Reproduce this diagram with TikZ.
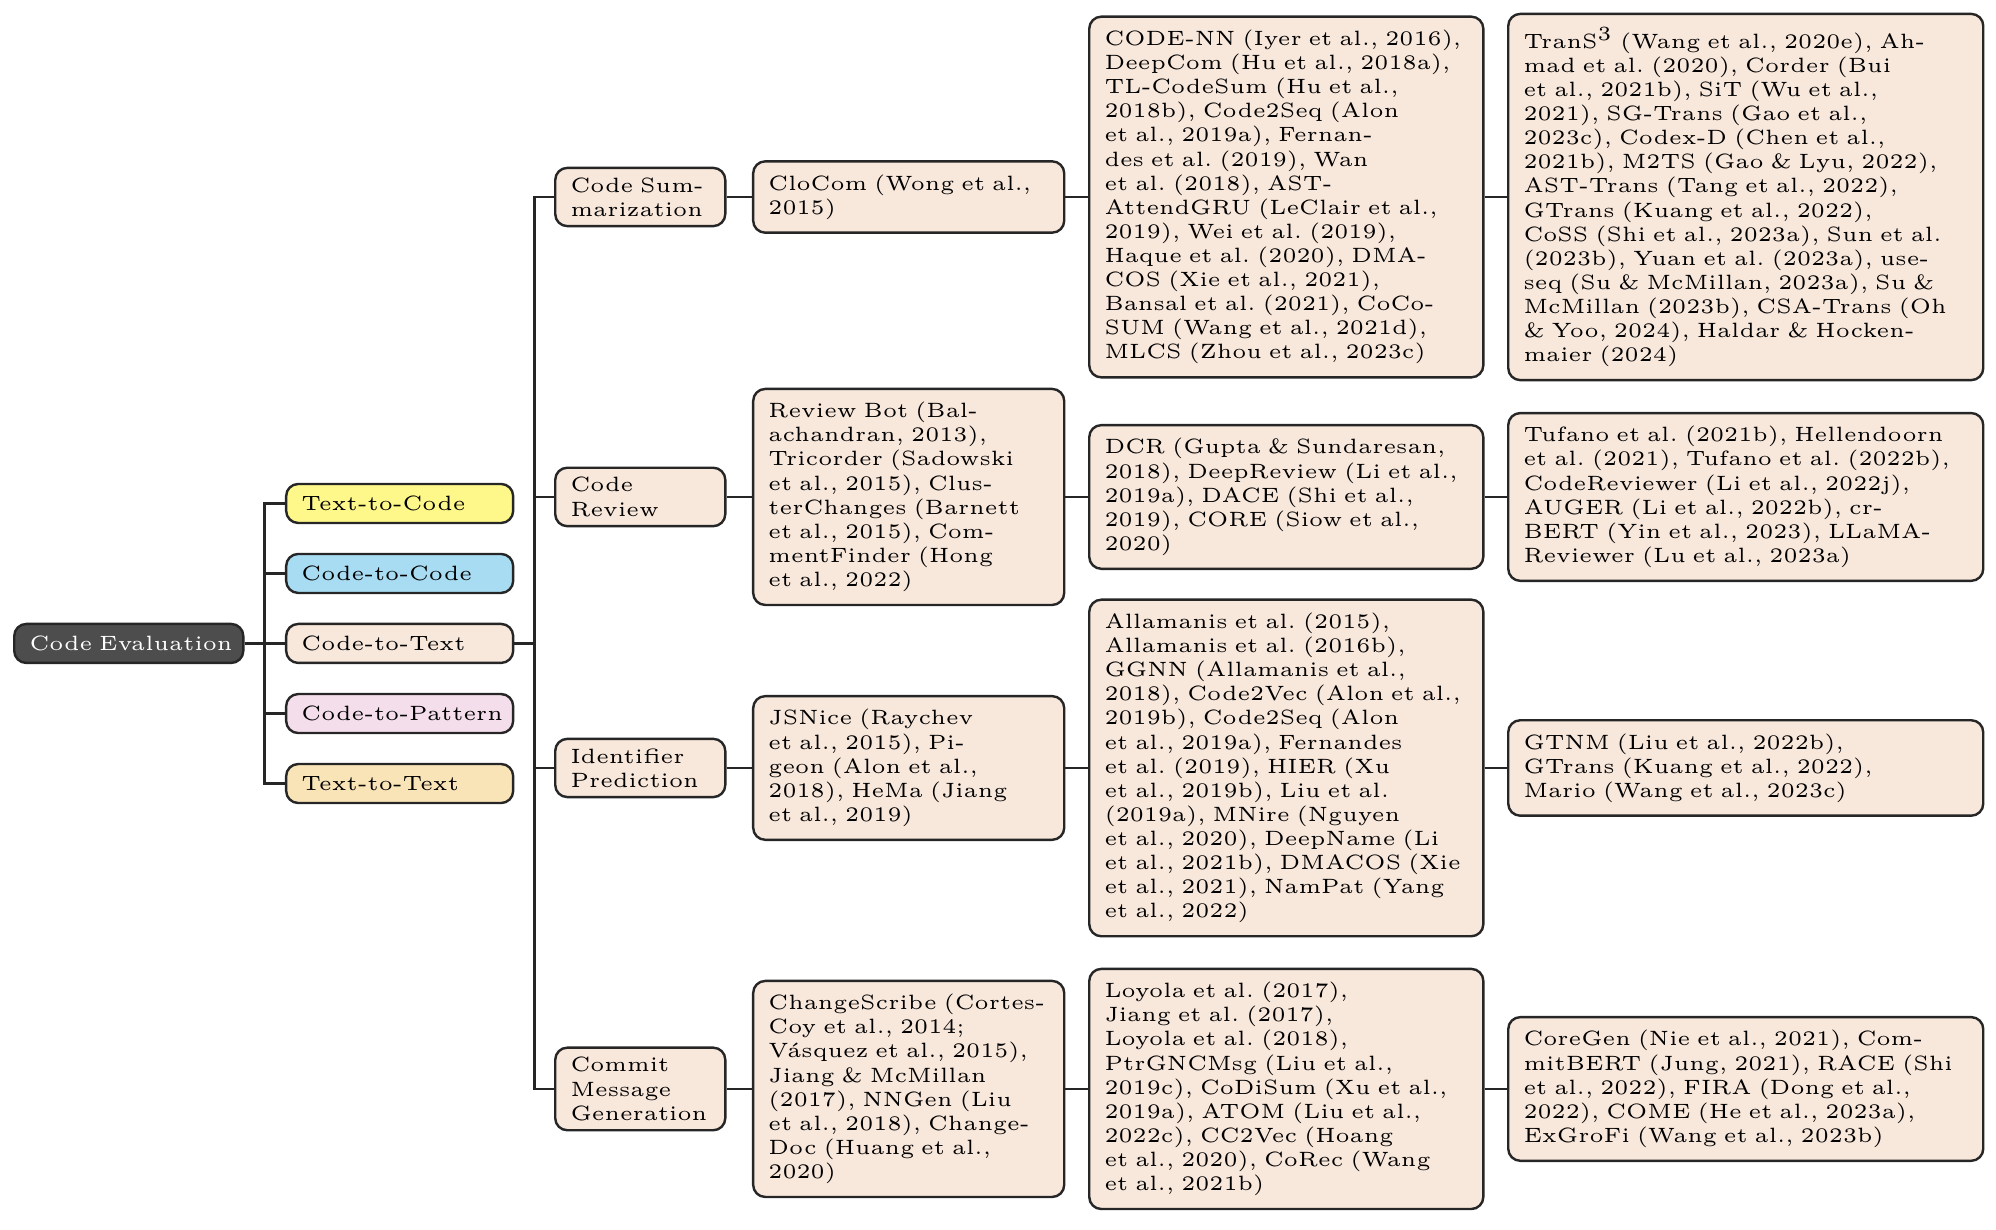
\documentclass[tikz,border=0pt]{standalone}
\usepackage{tikz}
\usetikzlibrary{calc}
\usepackage{xcolor}

\definecolor{rootgray}{RGB}{77,77,77}
\definecolor{tcyellow}{RGB}{254,247,138}
\definecolor{ccblue}{RGB}{167,220,242}
\definecolor{ctbeige}{RGB}{248,231,219}
\definecolor{cppink}{RGB}{245,222,235}
\definecolor{ttwheat}{RGB}{249,228,183}
\frenchspacing

\begin{document}
\begin{tikzpicture}[
    every node/.style={font=\fontsize{5.15pt}{6pt}\selectfont},
    box/.style={draw=black!85, line width=0.6pt, rounded corners=3pt, anchor=west, align=left, inner xsep=3.8pt},
    catbox/.style={box, text width=1.718cm, minimum height=0.341cm, inner ysep=0pt},
    taskbox/.style={box, fill=ctbeige, text width=1.22cm, inner ysep=2.4pt},
    workbox/.style={box, fill=ctbeige, inner ysep=3.3pt},
    edge/.style={draw=black!85, line width=0.6pt}
]
    \useasboundingbox (0,0) rectangle (17.455,-10.756);

    % 根
    \node[catbox, fill=rootgray, text=white, text width=1.736cm] (root) at (0.114,-5.627) {\mbox{Code Evaluation}};

    % 第一層
    \node[catbox, fill=tcyellow] (t2c) at (2.492,-4.403) {\mbox{Text-to-Code}};
    \node[catbox, fill=ccblue] (c2c) at (2.492,-5.015) {\mbox{Code-to-Code}};
    \node[catbox, fill=ctbeige] (c2t) at (2.492,-5.627) {\mbox{Code-to-Text}};
    \node[catbox, fill=cppink] (c2p) at (2.492,-6.240) {\mbox{Code-to-Pattern}};
    \node[catbox, fill=ttwheat] (t2t) at (2.492,-6.852) {\mbox{Text-to-Text}};

    % 第二層
    \node[taskbox] (cs) at (4.845,-1.723) {Code Sum-\\marization};
    \node[taskbox] (cr) at (4.845,-4.346) {Code\\Review};
    \node[taskbox] (ip) at (4.845,-6.716) {Identifier\\Prediction};
    \node[taskbox] (cm) at (4.845,-9.523) {Commit\\Message\\Generation};

    % 第三層
    \node[workbox, text width=2.453cm] (cs1) at (6.576,-1.723) {CloCom (Wong et al.,\\2015)};
    \node[workbox, text width=2.453cm] (cr1) at (6.576,-4.346) {Review Bot (Bal-\\achandran, 2013),\\Tricorder (Sadowski\\et al., 2015), Clus-\\terChanges (Barnett\\et al., 2015), Com-\\mentFinder (Hong\\et al., 2022)};
    \node[workbox, text width=2.453cm] (ip1) at (6.576,-6.716) {JSNice (Raychev\\et al., 2015), Pi-\\geon (Alon et al.,\\2018), HeMa (Jiang\\et al., 2019)};
    \node[workbox, text width=2.453cm] (cm1) at (6.576,-9.523) {ChangeScribe (Cortes-\\Coy et al., 2014;\\Vásquez et al., 2015),\\Jiang \& McMillan\\(2017), NNGen (Liu\\et al., 2018), Change-\\Doc (Huang et al.,\\2020)};

    % 第四層
    \node[workbox, text width=3.179cm] (cs2) at (9.515,-1.723) {CODE-NN (Iyer et al., 2016),\\DeepCom (Hu et al., 2018a),\\TL-CodeSum (Hu et al.,\\2018b), Code2Seq (Alon\\et al., 2019a), Fernan-\\des et al. (2019), Wan\\et al. (2018), AST-\\AttendGRU (LeClair et al.,\\2019), Wei et al. (2019),\\Haque et al. (2020), DMA-\\COS (Xie et al., 2021),\\Bansal et al. (2021), CoCo-\\SUM (Wang et al., 2021d),\\MLCS (Zhou et al., 2023c)};
    \node[workbox, text width=3.179cm] (cr2) at (9.515,-4.346) {DCR (Gupta \& Sundaresan,\\2018), DeepReview (Li et al.,\\2019a), DACE (Shi et al.,\\2019), CORE (Siow et al.,\\2020)};
    \node[workbox, text width=3.179cm] (ip2) at (9.515,-6.716) {Allamanis et al. (2015),\\Allamanis et al. (2016b),\\GGNN (Allamanis et al.,\\2018), Code2Vec (Alon et al.,\\2019b), Code2Seq (Alon\\et al., 2019a), Fernandes\\et al. (2019), HIER (Xu\\et al., 2019b), Liu et al.\\(2019a), MNire (Nguyen\\et al., 2020), DeepName (Li\\et al., 2021b), DMACOS (Xie\\et al., 2021), NamPat (Yang\\et al., 2022)};
    \node[workbox, text width=3.179cm] (cm2) at (9.515,-9.523) {Loyola et al. (2017),\\Jiang et al. (2017),\\Loyola et al. (2018),\\PtrGNCMsg (Liu et al.,\\2019c), CoDiSum (Xu et al.,\\2019a), ATOM (Liu et al.,\\2022c), CC2Vec (Hoang\\et al., 2020), CoRec (Wang\\et al., 2021b)};

    % 第五層
    \node[workbox, text width=3.887cm] (cs3) at (13.179,-1.723) {TranS$^3$ (Wang et al., 2020e), Ah-\\mad et al. (2020), Corder (Bui\\et al., 2021b), SiT (Wu et al.,\\2021), SG-Trans (Gao et al.,\\2023c), Codex-D (Chen et al.,\\2021b), M2TS (Gao \& Lyu, 2022),\\AST-Trans (Tang et al., 2022),\\GTrans (Kuang et al., 2022),\\CoSS (Shi et al., 2023a), Sun et al.\\(2023b), Yuan et al. (2023a), use-\\seq (Su \& McMillan, 2023a), Su \&\\McMillan (2023b), CSA-Trans (Oh\\\& Yoo, 2024), Haldar \& Hocken-\\maier (2024)};
    \node[workbox, text width=3.887cm] (cr3) at (13.179,-4.346) {Tufano et al. (2021b), Hellendoorn\\et al. (2021), Tufano et al. (2022b),\\CodeReviewer (Li et al., 2022j),\\AUGER (Li et al., 2022b), cr-\\BERT (Yin et al., 2023), LLaMA-\\Reviewer (Lu et al., 2023a)};
    \node[workbox, text width=3.887cm] (ip3) at (13.179,-6.716) {GTNM (Liu et al., 2022b),\\GTrans (Kuang et al., 2022),\\Mario (Wang et al., 2023c)};
    \node[workbox, text width=3.887cm] (cm3) at (13.179,-9.523) {CoreGen (Nie et al., 2021), Com-\\mitBERT (Jung, 2021), RACE (Shi\\et al., 2022), FIRA (Dong et al.,\\2022), COME (He et al., 2023a),\\ExGroFi (Wang et al., 2023b)};

    % 枝
    \coordinate (forkA) at ($(root.east)+(0.175,0)$);
    \foreach \n in {t2c,c2c,c2t,c2p,t2t}
        \draw[edge] (root.east) -- (forkA) |- (\n.west);
    \coordinate (forkB) at ($(c2t.east)+(0.175,0)$);
    \foreach \n in {cs,cr,ip,cm}
        \draw[edge] (c2t.east) -- (forkB) |- (\n.west);
    \foreach \n in {cs,cr,ip,cm}{
        \draw[edge] (\n.east) -- (\n1.west);
        \draw[edge] (\n1.east) -- (\n2.west);
        \draw[edge] (\n2.east) -- (\n3.west);
    }
\end{tikzpicture}
\end{document}
